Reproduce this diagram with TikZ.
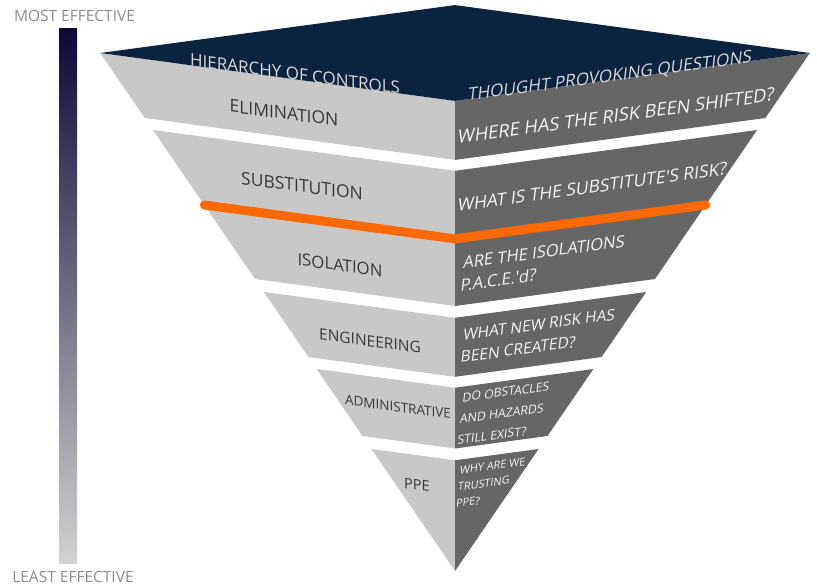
\documentclass[tikz,border=0pt]{standalone}
\usepackage{fontspec}
\setmainfont{Open Sans}
\definecolor{navy}{HTML}{0C2340}
\definecolor{lightband}{HTML}{C8C8C8}
\definecolor{darkband}{HTML}{666666}
\definecolor{orangeline}{HTML}{FF6A00}
\definecolor{sidegray}{HTML}{8C8C8C}
\definecolor{bartop}{HTML}{0A0A35}
\definecolor{barbot}{HTML}{D2D2D2}
\definecolor{lefttext}{HTML}{383838}
\definecolor{righttext}{HTML}{F4F4F4}
\definecolor{headtext}{HTML}{D8D8D8}
\newcommand\bandLeft[2]{\fill[lightband] ({455-0.685*(571-#1)},#1) -- (455,{#1+0.0925*(571-#1)}) -- (455,{#2+0.0925*(571-#2)}) -- ({455-0.685*(571-#2)},#2) -- cycle;}
\newcommand\bandRight[2]{\fill[darkband] ({455+0.685*(571-#1)},#1) -- (455,{#1+0.0925*(571-#1)}) -- (455,{#2+0.0925*(571-#2)}) -- ({455+0.685*(571-#2)},#2) -- cycle;}
\tikzset{
  lefttxt/.style={inner sep=0pt, text=lefttext, yslant=-0.135},
  righttxt/.style={inner sep=0pt, text=righttext, yslant=0.135, xslant=0.12, anchor=west, align=left},
  sidetxt/.style={inner sep=0pt, text=sidegray, font=\fontsize{15.5}{17}\selectfont},
}
\begin{document}
\begin{tikzpicture}[x=1pt,y=-1pt]
\useasboundingbox (0,0) rectangle (817,587);
% effectiveness bar
\shade[top color=bartop, bottom color=barbot] (59,28) rectangle (77,563);
\node[sidetxt] (most) at (74.5,16) {MOST EFFECTIVE};
\node[sidetxt] (least) at (73,577) {LEAST EFFECTIVE};
% bands
\bandLeft{53}{118}\bandRight{53}{118}
\bandLeft{130}{279}\bandRight{130}{279}
\bandLeft{292}{357}\bandRight{292}{357}
\bandLeft{369}{436}\bandRight{369}{436}
\fill[lightband] ({455-0.685*(571-449)},449) -- (455,{449+0.0925*(571-449)}) -- (455,571) -- cycle;
\fill[darkband] ({455+0.685*(571-449)},449) -- (455,{449+0.0925*(571-449)}) -- (455,571) -- cycle;
% top cap
\fill[navy] ({455-0.685*(571-53)},53) -- (455,{53-0.0925*(571-53)}) -- ({455+0.685*(571-53)},53) -- (455,{53+0.0925*(571-53)}) -- cycle;
% orange line
\draw[orangeline, line width=9pt, line cap=round, line join=round]
  ({455-0.685*(571-205)},205) -- (455,{205+0.0925*(571-205)}) -- ({455+0.685*(571-205)},205);
% header texts
\node[lefttxt, text=headtext, font=\fontsize{17}{19}\selectfont] (hoc) at (295,74) {HIERARCHY OF CONTROLS};
\node[righttxt, text=headtext, anchor=center, font=\fontsize{17.1}{20}\selectfont] (tpq) at (610,77) {THOUGHT PROVOKING QUESTIONS};
% left labels
\node[lefttxt, font=\fontsize{17.5}{19}\selectfont] (elim) at (284,113) {ELIMINATION};
\node[lefttxt, font=\fontsize{17.5}{19}\selectfont] (subs) at (302,186) {SUBSTITUTION};
\node[lefttxt, font=\fontsize{16.8}{19}\selectfont] (isol) at (340,265) {ISOLATION};
\node[lefttxt, font=\fontsize{15.5}{18}\selectfont] (engi) at (370,341) {ENGINEERING};
\node[lefttxt, font=\fontsize{13.5}{16}\selectfont] (admi) at (398,407) {ADMINISTRATIVE};
\node[lefttxt, font=\fontsize{14.5}{16}\selectfont] (ppe) at (417,485) {PPE};
% right questions
\node[righttxt, font=\fontsize{18.2}{20}\selectfont] (q1) at (458,137) {WHERE HAS THE RISK BEEN SHIFTED?};
\node[righttxt, font=\fontsize{17.4}{20}\selectfont] (q2) at (458,205) {WHAT IS THE SUBSTITUTE\textquotesingle S RISK?};
\node[righttxt, font=\fontsize{16.5}{22}\selectfont] (q3) at (462,274) {ARE THE ISOLATIONS\\P.A.C.E.\textquotesingle d?};
\node[righttxt, font=\fontsize{15.5}{22}\selectfont] (q4) at (462,346) {WHAT NEW RISK HAS\\BEEN CREATED?};
\node[righttxt, font=\fontsize{12.2}{21}\selectfont] (q5) at (460,419) {DO OBSTACLES\\AND HAZARDS\\STILL EXIST?};
\node[righttxt, font=\fontsize{10.8}{16.5}\selectfont] (q6) at (458,487) {WHY ARE WE\\TRUSTING\\PPE?};
\end{tikzpicture}
\end{document}
